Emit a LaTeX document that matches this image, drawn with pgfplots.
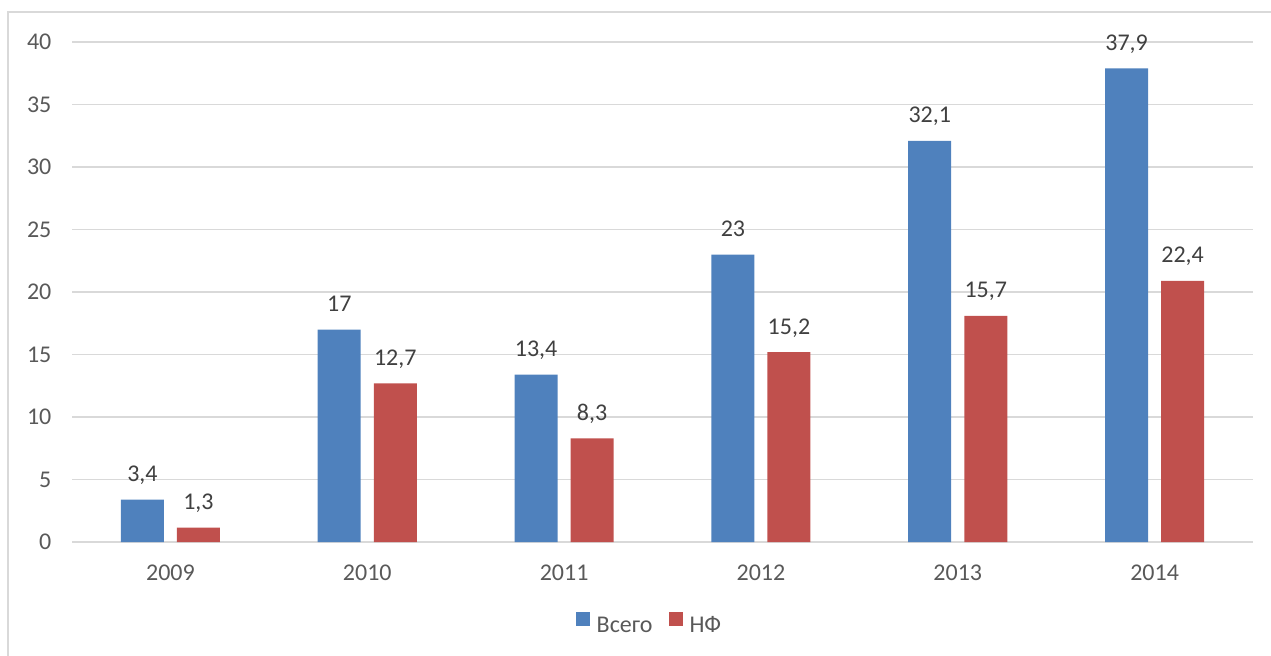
\documentclass[border=0pt]{standalone}
\usepackage{fontspec}
\setmainfont{Carlito}
\usepackage{pgfplots}
\usepackage{pgfplotstable}
\pgfplotsset{compat=1.18}
\definecolor{cBlue}{HTML}{4F81BD}
\definecolor{cRed}{HTML}{C0504D}
\definecolor{cGrid}{HTML}{D9D9D9}
\definecolor{cTick}{HTML}{595959}
\definecolor{cLab}{HTML}{404040}

\pgfplotstableread{
x y lab
0 3.4 {3,4}
1 17 {17}
2 13.4 {13,4}
3 23 {23}
4 32.1 {32,1}
5 37.9 {37,9}
}\vsego
\pgfplotstableread{
x y lab
0 1.15 {1,3}
1 12.7 {12,7}
2 8.3 {8,3}
3 15.2 {15,2}
4 18.1 {15,7}
5 20.9 {22,4}
}\nf

\begin{document}
\begin{tikzpicture}
\useasboundingbox (0,0) rectangle (635.5pt,327.5pt);
\draw[cGrid, line width=0.6pt] (4pt,-1pt) -- (4pt,321.5pt) -- (640pt,321.5pt);
\begin{axis}[
  at={(36pt,56.5pt)}, anchor=south west,
  scale only axis, width=590.5pt, height=250pt,
  xmin=-0.5, xmax=5.5, ymin=0, ymax=40,
  xtick={0,1,2,3,4,5},
  xticklabels={2009,2010,2011,2012,2013,2014},
  ytick={0,5,10,15,20,25,30,35,40},
  axis line style={draw=none},
  major tick length=0pt,
  ymajorgrids, grid style={cGrid, line width=0.75pt},
  font=\fontsize{12}{14}\selectfont,
  /pgf/number format/assume math mode=true,
  yticklabel style={text=cTick, xshift=-6.8pt},
  xticklabel style={text=cTick, yshift=-8pt},
  nodes near coords,
  point meta=explicit symbolic,
  every node near coord/.append style={anchor=base, yshift=9pt, text=cLab, font=\fontsize{12}{14}\selectfont},
  legend style={draw=none, fill=none, at={(0.4898,-0.168)}, anchor=center,
    text=cTick, font=\fontsize{12}{14}\selectfont,
    /tikz/every odd column/.append style={column sep=1.5pt},
    /tikz/every even column/.append style={column sep=6pt}},
  legend columns=-1,
  legend image code/.code={\fill[#1] (0pt,0pt) rectangle (7pt,7pt);},
]
\addplot[ybar, bar width=0.2185, bar shift=-0.1423, fill=cBlue, draw=none,
  every node near coord/.append style={xshift=-14pt}] table[x=x, y=y, meta=lab] {\vsego};
\addlegendentry{Всего}
\addplot[ybar, bar width=0.2185, bar shift=0.1423, fill=cRed, draw=none,
  every node near coord/.append style={xshift=14pt}] table[x=x, y=y, meta=lab] {\nf};
\addlegendentry{НФ}
\end{axis}
\end{tikzpicture}
\end{document}
